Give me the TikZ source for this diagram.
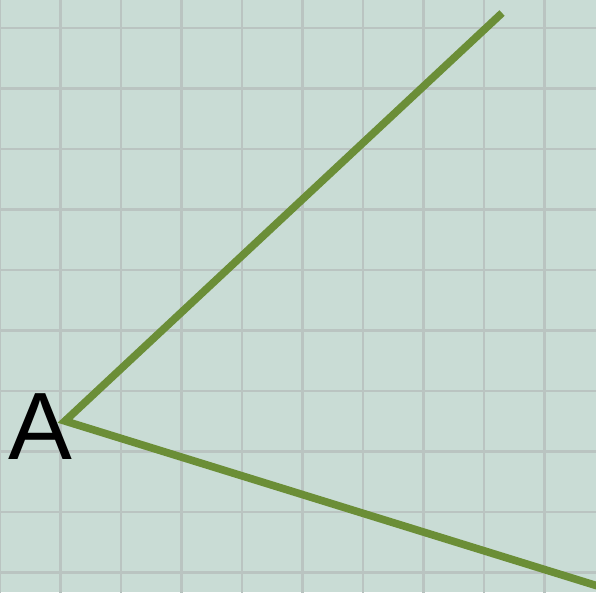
\documentclass[tikz,border=0pt]{standalone}
\usepackage{fontspec}
\setmainfont{Liberation Sans}
\usetikzlibrary{positioning}
\definecolor{fondo}{RGB}{201,220,213}
\definecolor{rejilla}{RGB}{186,196,193}
\definecolor{verde}{RGB}{107,142,55}

\begin{document}
\begin{tikzpicture}[
        rejilla/.style={draw=rejilla, line width=1pt},
        lado/.style={draw=verde, line width=3.6pt, line join=miter},
        etiqueta/.style={font=\fontsize{45}{45}\selectfont, inner sep=0pt, anchor=east}
    ]
        \fill[fondo] (0,0) rectangle (9.851,9.785);
        \useasboundingbox (0,0) rectangle (9.851,9.785);
        \clip (0,0) rectangle (9.851,9.785);
        \draw[rejilla, shift={(0,0.322)}] (0,-1) grid (11,10);

        \coordinate (A) at (1.074,2.826);
        \coordinate (B) at (8.298,9.570);
        \coordinate (C) at (10.2,0);

        \draw[lado] (B) -- (A) -- (C);
        \node[etiqueta] (etiq) at ([shift={(0.13,-0.09)}]A) {A};
    \end{tikzpicture}
\end{document}
